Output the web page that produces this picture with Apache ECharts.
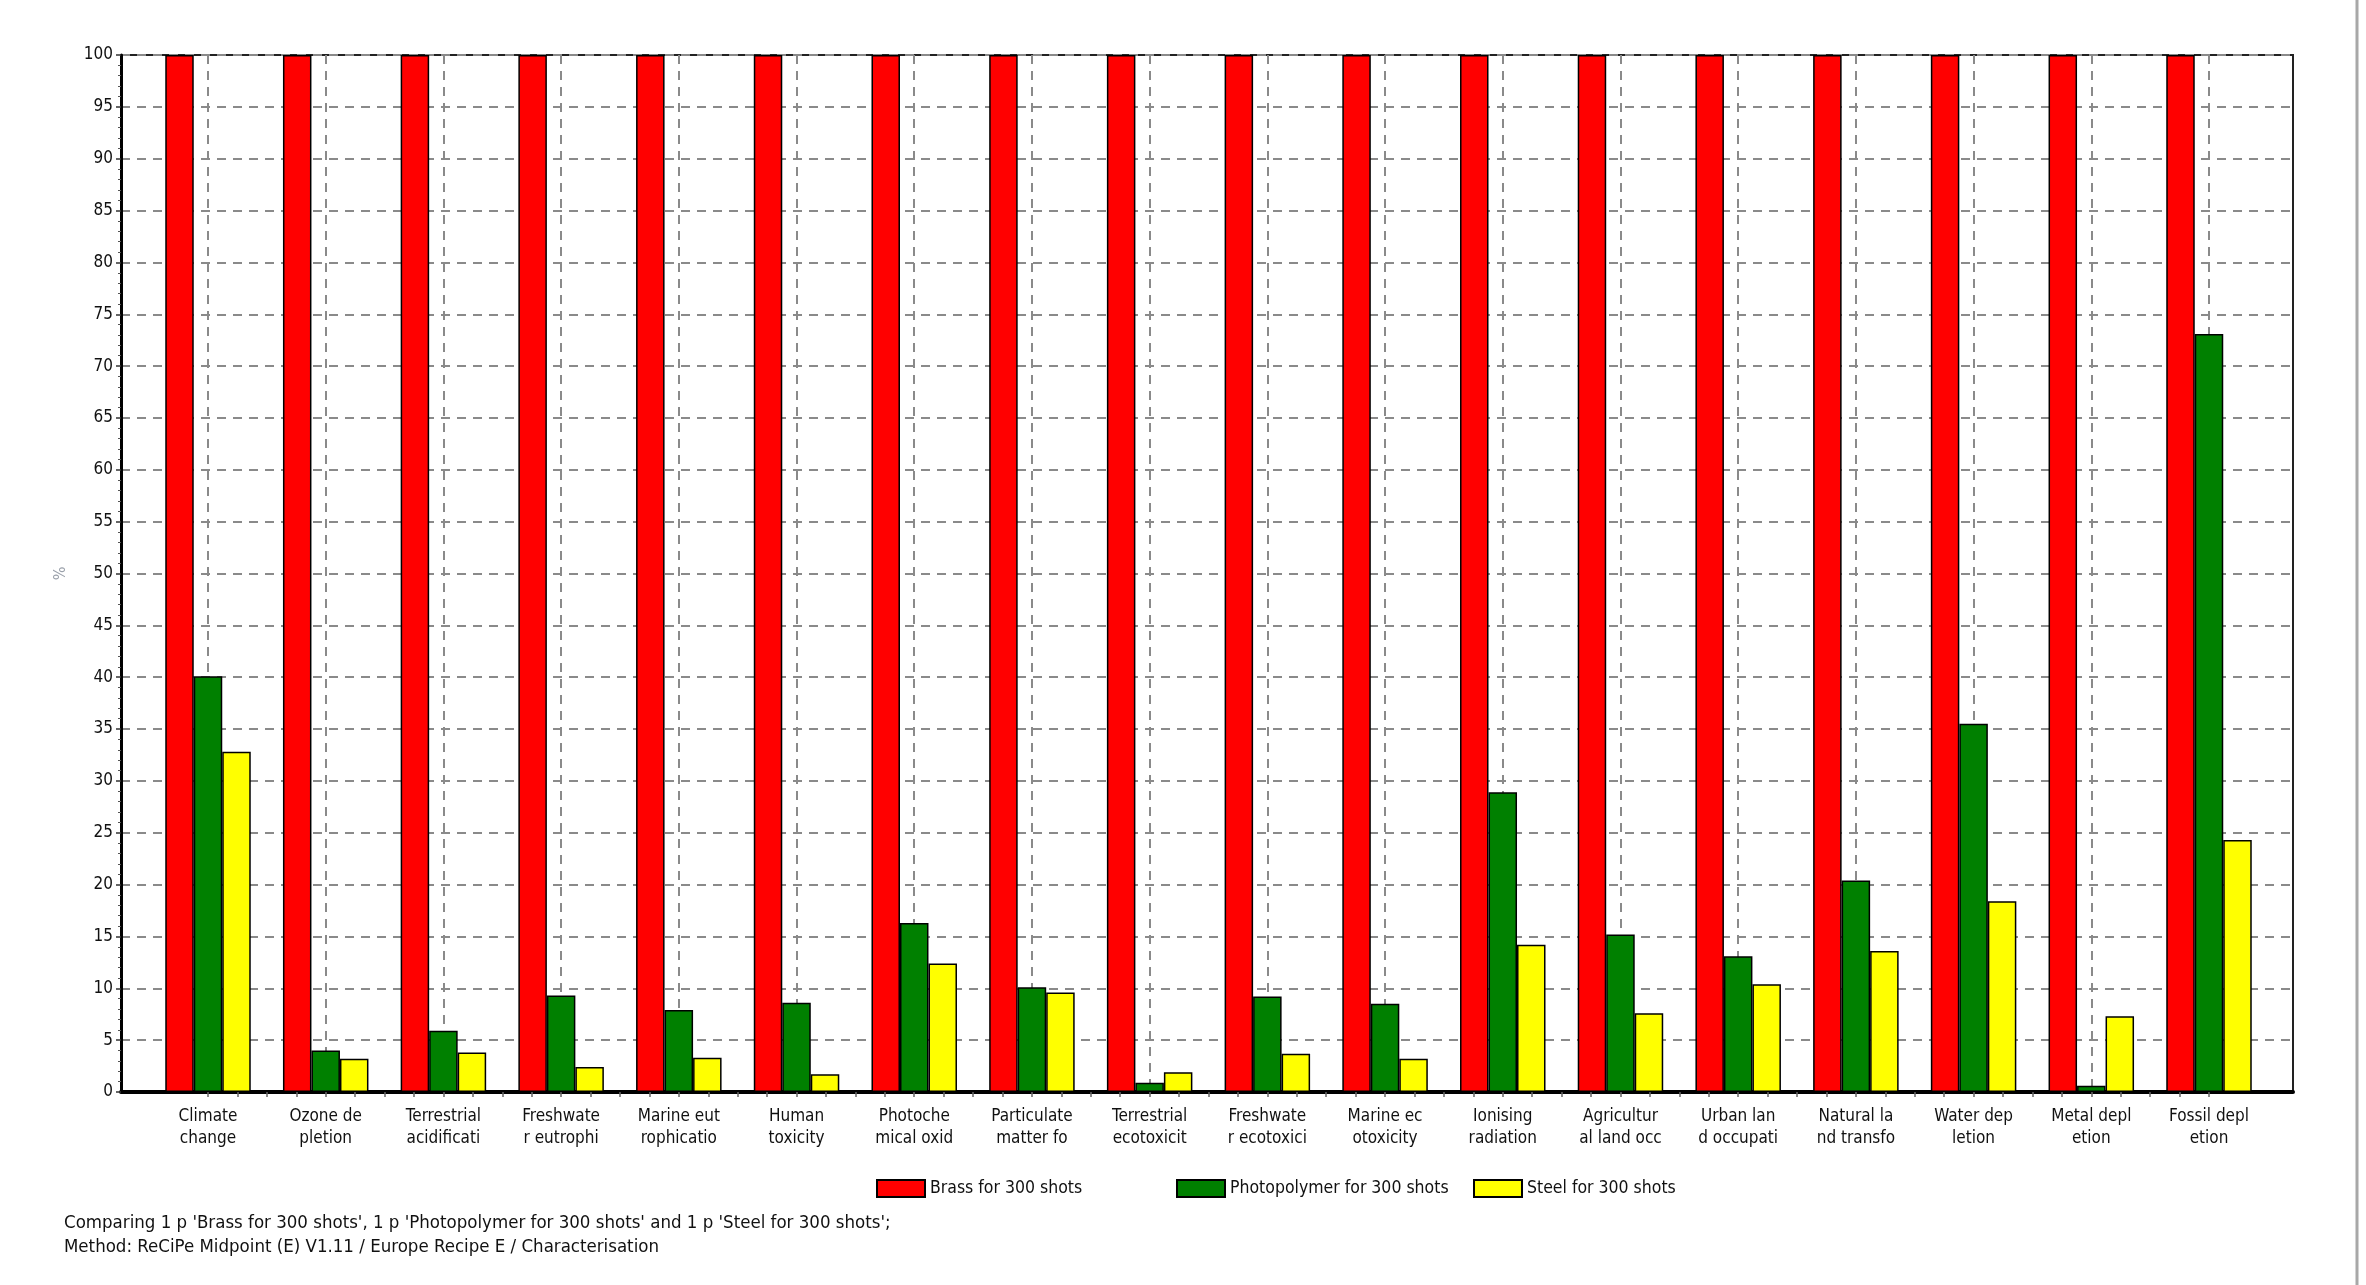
<!DOCTYPE html>
<html><head><meta charset="utf-8">
<script src="https://cdn.jsdelivr.net/npm/echarts@6/dist/echarts.min.js"></script>
<style>html,body{margin:0;padding:0;background:#fff}#c{width:2366px;height:1285px}</style>
</head><body><div id="c"></div>
<script>
const categories = [
  'Climate\nchange', 'Ozone de\npletion', 'Terrestrial\nacidificati', 'Freshwate\nr eutrophi',
  'Marine eut\nrophicatio', 'Human\ntoxicity', 'Photoche\nmical oxid', 'Particulate\nmatter fo',
  'Terrestrial\necotoxicit', 'Freshwate\nr ecotoxici', 'Marine ec\notoxicity', 'Ionising\nradiation',
  'Agricultur\nal land occ', 'Urban lan\nd occupati', 'Natural la\nnd transfo', 'Water dep\nletion',
  'Metal depl\netion', 'Fossil depl\netion'
];
const seriesNames = ['Brass for 300 shots', 'Photopolymer for 300 shots', 'Steel for 300 shots'];
const brass = [100, 100, 100, 100, 100, 100, 100, 100, 100, 100, 100, 100, 100, 100, 100, 100, 100, 100];
const photopolymer = [40.1, 4.0, 5.9, 9.3, 7.9, 8.6, 16.3, 10.1, 0.9, 9.2, 8.5, 28.9, 15.2, 13.1, 20.4, 35.5, 0.6, 73.1];
const steel = [32.8, 3.2, 3.8, 2.4, 3.3, 1.7, 12.4, 9.6, 1.9, 3.7, 3.2, 14.2, 7.6, 10.4, 13.6, 18.4, 7.3, 24.3];
const yMin = 0, yMax = 100, yStep = 5;
const yName = '%';
const footnote = [
  "Comparing 1 p 'Brass for 300 shots', 1 p 'Photopolymer for 300 shots' and 1 p 'Steel for 300 shots';",
  'Method: ReCiPe Midpoint (E) V1.11 / Europe Recipe E / Characterisation'
];
const colors = ['#ff0000', '#008000', '#ffff00'];

const FONT = '"Liberation Sans Narrow", "DejaVu Sans Condensed", "Roboto Condensed", sans-serif';
const chart = echarts.init(document.getElementById('c'), null, {renderer: 'canvas'});

const frame = {left: 121, top: 55, width: 2172, height: 1037};
const barGrid = {left: 208, top: 55, width: 2001, height: 1037};
const dash = {color: '#8a8a8a', width: 2, type: [9, 7]};
const barBorder = {borderColor: '#000', borderWidth: 1.5};
const seriesData = [brass, photopolymer, steel];
const legendLefts = [876, 1176, 1473];
const TXT = '#111';

const option = {
  backgroundColor: '#fff',
  animation: false,
  textStyle: {fontFamily: FONT},
  title: {
    text: footnote.join('\n'),
    left: 59, top: 1206,
    textStyle: {fontFamily: FONT, fontSize: 18.5, fontWeight: 'normal', color: TXT, lineHeight: 24}
  },
  legend: seriesNames.map((n, i) => ({
    data: [n], left: legendLefts[i], top: 1179, padding: 0,
    itemWidth: 48, itemHeight: 17, itemGap: 10, icon: 'rect',
    textStyle: {fontFamily: FONT, fontSize: 17.5, color: TXT, padding: [0, 0, 0, 0]},
    selectedMode: false
  })),
  grid: [
    Object.assign({show: true, borderColor: '#222', borderWidth: 2, backgroundColor: 'transparent'}, frame),
    Object.assign({show: false}, barGrid)
  ],
  xAxis: [
    {gridIndex: 0, type: 'value', min: 0, max: 1, interval: 1,
     axisLine: {show: true, lineStyle: {color: '#000', width: 4}},
     axisTick: {show: false}, axisLabel: {show: false}, splitLine: {show: false}},
    {gridIndex: 1, type: 'category', data: categories, boundaryGap: false,
     axisLine: {show: false}, axisTick: {show: false},
     axisLabel: {show: true, interval: 0, margin: 14, fontFamily: FONT, fontSize: 17, lineHeight: 22, color: TXT},
     splitLine: {show: true, interval: 0, lineStyle: dash}},
    {gridIndex: 1, type: 'value', min: 0, max: 17, interval: 0.25, position: 'bottom',
     axisLine: {show: false}, axisTick: {show: true, length: 5, lineStyle: {color: '#666', width: 1.5}},
     axisLabel: {show: false}, splitLine: {show: false}}
  ],
  yAxis: [
    {gridIndex: 0, type: 'value', min: yMin, max: yMax, interval: yStep,
     name: yName, nameLocation: 'middle', nameRotate: 90, nameGap: 52,
     nameTextStyle: {fontFamily: FONT, fontSize: 16, color: '#9aa0aa'},
     axisLine: {show: true, lineStyle: {color: '#000', width: 3}},
     axisTick: {show: true, length: 5, lineStyle: {color: '#333', width: 1.5}},
     minorTick: {show: true, splitNumber: 5, length: 3, lineStyle: {color: '#555', width: 1}},
     axisLabel: {fontFamily: FONT, fontSize: 17, color: TXT, margin: 8},
     splitLine: {show: true, lineStyle: dash}},
    {gridIndex: 1, type: 'value', min: yMin, max: yMax, interval: yStep, show: false,
     splitLine: {show: false}}
  ],
  series: seriesNames.map((n, i) => ({
    name: n, type: 'bar', xAxisIndex: 1, yAxisIndex: 1,
    data: seriesData[i], barWidth: 28.5, barGap: '0%', clip: false,
    itemStyle: Object.assign({color: colors[i]}, barBorder)
  })),
  graphic: [
    {type: 'line', shape: {x1: 2357, y1: 0, x2: 2357, y2: 1285}, style: {stroke: '#a8a8a8', lineWidth: 3}, silent: true}
  ]
};
chart.setOption(option);
</script>
</body></html>
